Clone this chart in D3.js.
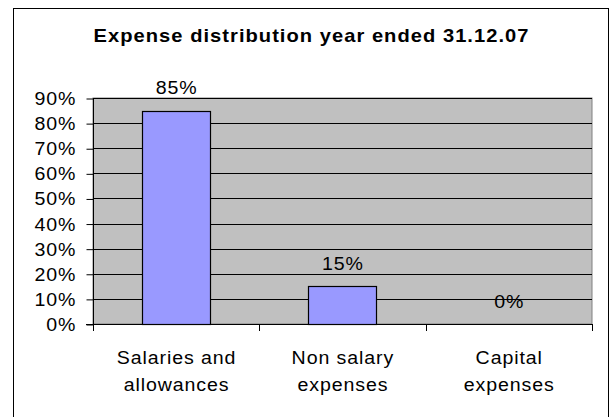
<!DOCTYPE html>
<html>
<head>
<meta charset="utf-8">
<script src="https://cdn.jsdelivr.net/npm/d3@7"></script>
<style>
  html, body { margin: 0; padding: 0; background: #fff; }
  svg { display: block; }
  text { font-family: "Liberation Sans", Arial, sans-serif; fill: #000; }
</style>
</head>
<body>
<svg id="chart" width="612" height="417"></svg>
<script>
// Chart data
const chartTitle = "Expense distribution year ended 31.12.07";
const categories = [["Salaries and", "allowances"], ["Non salary", "expenses"], ["Capital", "expenses"]];
const values = [0.85, 0.15, 0.00];
const yTicks = [0, 0.1, 0.2, 0.3, 0.4, 0.5, 0.6, 0.7, 0.8, 0.9];

const svg = d3.select("#chart");
const FS = 17.5;      // body text size
const SX = 1.12;      // horizontal widening of body text
const LS = 0.8;       // letter spacing of body text
const pct = d3.format(".0%");

// Places a text element at (px, py) with horizontal widening
function placeText(sel, px, py, sx) {
  sel.attr("x", 0).attr("y", 0)
     .attr("transform", (d, i) => `translate(${px(d, i)},${py(d, i)}) scale(${sx},1)`);
}

// Outer chart frame (bottom edge runs off the canvas)
svg.append("rect")
  .attr("x", 13.5).attr("y", 8.5)
  .attr("width", 595).attr("height", 420)
  .attr("fill", "#fff").attr("stroke", "#000").attr("stroke-width", 1);

const plot = { left: 93, right: 592, top: 98, bottom: 324 };

const x = d3.scaleBand()
  .domain(d3.range(categories.length))
  .range([plot.left, plot.right])
  .paddingInner(0.59).paddingOuter(0.295);

const band = (plot.right - plot.left) / categories.length;

const y = d3.scaleLinear()
  .domain([0, 0.9])
  .range([plot.bottom, plot.top]);

// Plot area background
svg.append("rect")
  .attr("x", plot.left).attr("y", plot.top)
  .attr("width", plot.right - plot.left).attr("height", plot.bottom - plot.top)
  .attr("fill", "#C0C0C0").attr("stroke", "#808080").attr("stroke-width", 1);

// Horizontal gridlines
svg.append("g")
  .selectAll("line")
  .data(yTicks.filter(d => d > 0))
  .join("line")
  .attr("x1", plot.left).attr("x2", plot.right)
  .attr("y1", d => Math.round(y(d)) + 0.5).attr("y2", d => Math.round(y(d)) + 0.5)
  .attr("stroke", "#000").attr("stroke-width", 1);

// Bars
svg.append("g")
  .selectAll("rect")
  .data(values)
  .join("rect")
  .attr("x", (d, i) => Math.round(x(i)) + 0.5)
  .attr("y", d => Math.round(y(d)) + 0.5)
  .attr("width", Math.round(x.bandwidth()))
  .attr("height", d => Math.round(y(0)) - Math.round(y(d)))
  .attr("fill", "#9999FF")
  .attr("stroke", "#000")
  .attr("stroke-width", 1.2)
  .style("display", d => d > 0 ? null : "none");

// Value labels
svg.append("g")
  .selectAll("text")
  .data(values)
  .join("text")
  .attr("text-anchor", "middle")
  .attr("font-size", FS)
  .attr("letter-spacing", LS)
  .text(d => pct(d))
  .call(placeText, (d, i) => x(i) + x.bandwidth() / 2 + LS / 2, d => y(d) - 16.5, SX);

// Y axis
const yAxis = d3.axisLeft(y)
  .tickValues(yTicks)
  .tickFormat(pct)
  .tickSize(7)
  .tickPadding(9);
const yg = svg.append("g")
  .attr("transform", `translate(${plot.left + 0.5},0.5)`)
  .call(yAxis);
yg.select(".domain").attr("stroke", "#000").attr("d", `M0,${plot.top}V${plot.bottom + 6}`);
yg.selectAll(".tick line").attr("stroke", "#000");
yg.selectAll(".tick text")
  .attr("font-family", "Liberation Sans, Arial, sans-serif")
  .attr("font-size", FS)
  .attr("letter-spacing", LS)
  .attr("fill", "#000")
  .attr("dy", null)
  .call(placeText, () => -18 + LS, () => 6, SX);

// X axis: baseline with ticks at category boundaries
const boundaries = d3.range(categories.length + 1).map(i => plot.left + i * band);
const xg = svg.append("g");
xg.append("line")
  .attr("x1", plot.left - 7).attr("x2", plot.right)
  .attr("y1", plot.bottom + 0.5).attr("y2", plot.bottom + 0.5)
  .attr("stroke", "#000").attr("stroke-width", 1);
xg.selectAll("line.tick")
  .data(boundaries)
  .join("line")
  .attr("class", "tick")
  .attr("x1", d => Math.round(d) + 0.5).attr("x2", d => Math.round(d) + 0.5)
  .attr("y1", plot.bottom).attr("y2", plot.bottom + 7)
  .attr("stroke", "#000");

// Category labels (two lines each)
const lines = categories.flatMap((c, i) => c.map((line, j) => ({ line, i, j })));
xg.selectAll("text.cat")
  .data(lines)
  .join("text")
  .attr("class", "cat")
  .attr("text-anchor", "middle")
  .attr("font-size", FS)
  .attr("letter-spacing", LS)
  .text(d => d.line)
  .call(placeText, d => x(d.i) + x.bandwidth() / 2 + LS / 2, d => 364 + d.j * 27, SX);

// Title
svg.append("text")
  .attr("text-anchor", "middle")
  .attr("font-size", 17.5)
  .attr("font-weight", "bold")
  .attr("letter-spacing", 0.9)
  .text(chartTitle)
  .call(placeText, () => (13 + 608) / 2 + 1, () => 41.5, 1.15);
</script>
</body>
</html>
